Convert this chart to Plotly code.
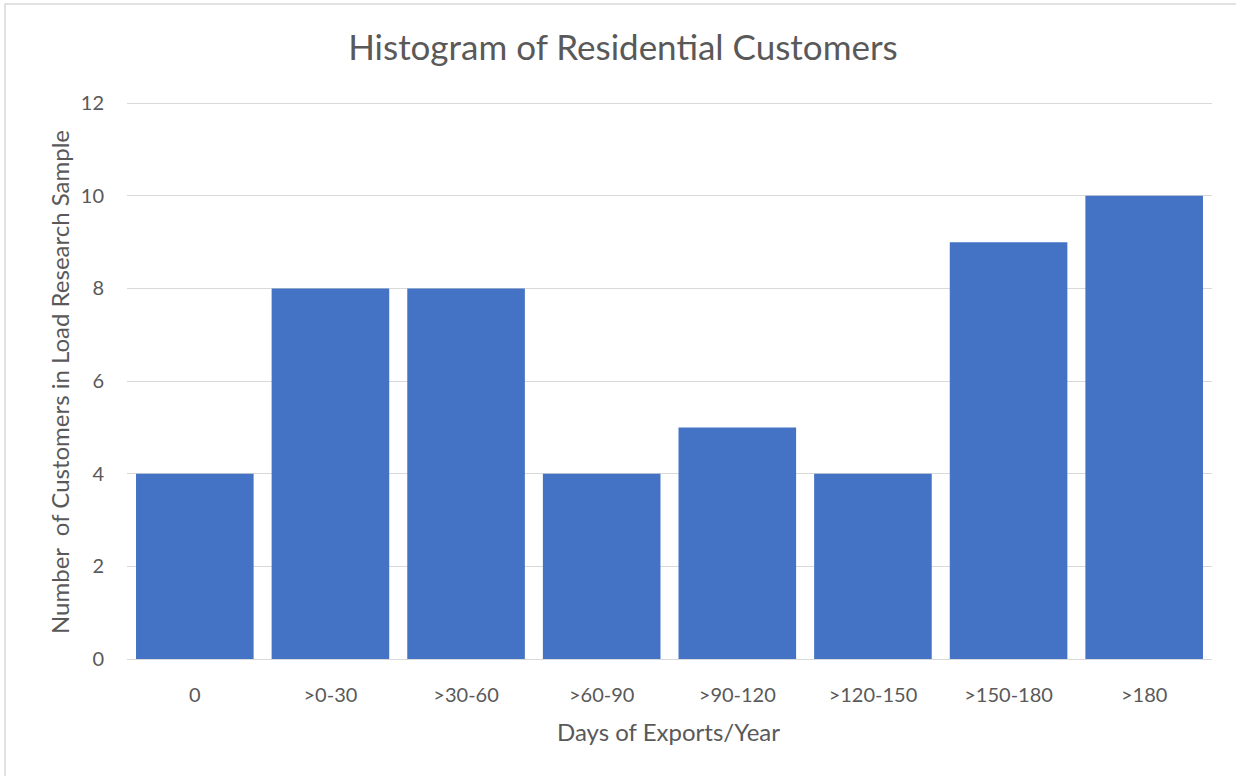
import plotly.graph_objects as go

categories = ["0", ">0-30", ">30-60", ">60-90", ">90-120", ">120-150", ">150-180", ">180"]
counts = [4, 8, 8, 4, 5, 4, 9, 10]
y_ticks = [0, 2, 4, 6, 8, 10, 12]

FONT = "Lato, Open Sans, sans-serif"
GREY = "#595959"

fig = go.Figure(go.Bar(x=categories, y=counts, marker=dict(color="#4472C4", line=dict(width=0))))

fig.update_layout(
    width=1236, height=776,
    margin=dict(l=127, r=24, t=100, b=117),
    paper_bgcolor="white", plot_bgcolor="white",
    bargap=0.133,
    showlegend=False,
    font=dict(family=FONT, color=GREY, size=20),
    title=dict(text="Histogram of Residential Customers", x=0.504, xanchor="center",
               y=1 - 48 / 776, yanchor="middle",
               font=dict(family=FONT, size=35, color=GREY)),
    xaxis=dict(showgrid=False, showline=True, linecolor="#D9D9D9", linewidth=1,
               ticks="", ticklabelstandoff=18, tickfont=dict(size=20, color=GREY)),
    yaxis=dict(range=[0, 12.07], tickvals=y_ticks, showgrid=True, gridcolor="#D9D9D9",
               gridwidth=1, zeroline=False, showline=False, ticks="",
               ticklabelstandoff=22, tickfont=dict(size=20, color=GREY)),
    annotations=[
        dict(text="Days of Exports/Year", xref="paper", yref="paper",
             x=(668 - 127) / (1236 - 127 - 24), y=-(731 - 659) / (659 - 100),
             xanchor="center", yanchor="middle", showarrow=False,
             font=dict(family=FONT, size=24, color=GREY)),
        dict(text="Number  of Customers in Load Research Sample", xref="paper", yref="paper",
             x=-(127 - 59) / (1236 - 127 - 24), y=(659 - 382) / (659 - 100),
             xanchor="center", yanchor="middle", textangle=-90, showarrow=False,
             font=dict(family=FONT, size=24, color=GREY)),
    ],
    shapes=[dict(type="rect", xref="paper", yref="paper",
                 x0=-(127 - 5) / 1085, x1=(1240 - 127) / 1085,
                 y0=-(780 - 659) / 559, y1=(659 - 4) / 559,
                 line=dict(color="#D9D9D9", width=1.5), fillcolor="rgba(0,0,0,0)", layer="below")],
)

fig.write_html("out.html")
